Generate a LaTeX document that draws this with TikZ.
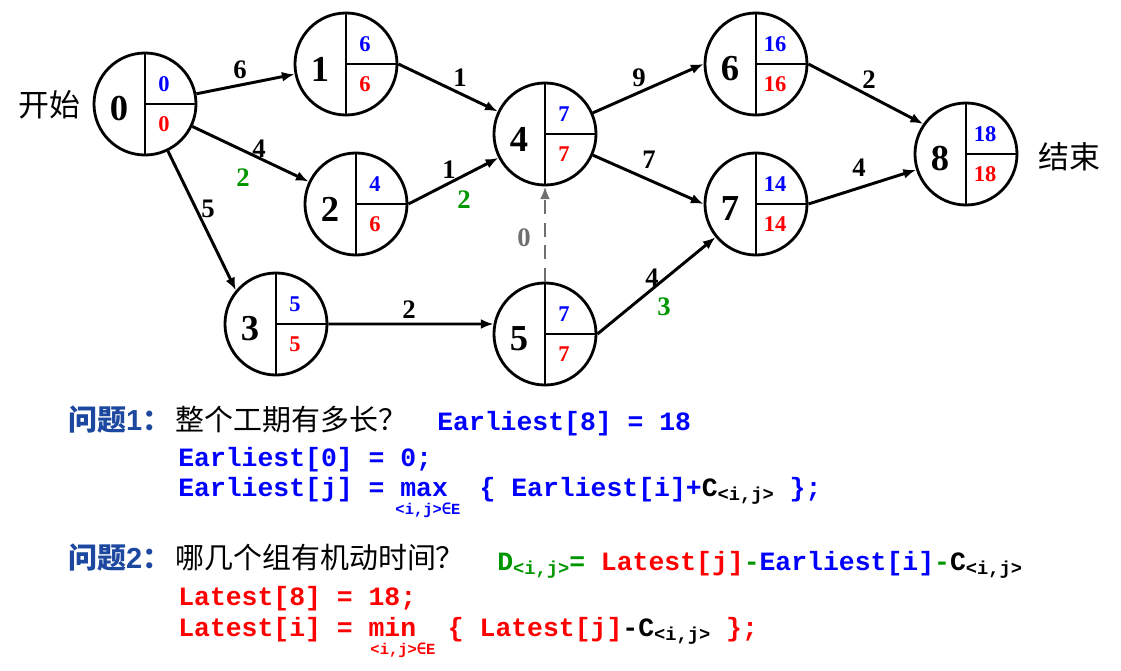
\documentclass[tikz,border=0pt]{standalone}
\usepackage{fontspec}
\setmainfont{Liberation Serif}
\newfontfamily\cjkfont{Noto Sans CJK SC}
\newfontfamily\codefont{Liberation Mono}
\newfontfamily\headfont{Liberation Sans}
\newfontfamily\symbfont{DejaVu Sans Mono}
\usetikzlibrary{arrows.meta, positioning, calc}
\definecolor{eblue}{RGB}{0,0,255}
\definecolor{lred}{RGB}{255,0,0}
\definecolor{dgreen}{RGB}{0,150,0}
\definecolor{dgray}{RGB}{110,110,110}
\definecolor{qblue}{RGB}{28,72,160}
\tikzset{
	event/.style={circle, draw, line width=2pt, minimum size=2.55cm, inner sep=0pt},
	divider/.style={line width=2pt},
	bignum/.style={font=\fontsize{26}{26}\selectfont\bfseries, inner sep=0pt},
	early/.style={font=\fontsize{16}{16}\selectfont\bfseries, text=eblue, inner sep=0pt},
	late/.style={early, text=lred},
	weight/.style={font=\fontsize{19}{19}\selectfont\bfseries, inner sep=0pt},
	slack/.style={weight, text=dgreen},
	arc/.style={draw, line width=2.1pt, -{Latex[length=9pt,width=7pt]}},
	dummy/.style={arc, dgray, dash pattern=on 10pt off 6pt},
	endlabel/.style={font=\cjkfont\fontsize{22}{22}\selectfont, inner sep=0pt},
	question/.style={anchor=base west, inner sep=0pt, font=\cjkfont\fontsize{20.6}{20.6}\selectfont},
	code/.style={anchor=base west, inner sep=0pt, font=\codefont\bfseries\fontsize{18.8}{18.8}\selectfont},
	under/.style={inner sep=0pt, font=\codefont\bfseries\fontsize{11}{11}\selectfont}
}
\newcommand{\pairsub}{\raisebox{-0.35ex}{\fontsize{13.3}{13.3}\selectfont<i,j>}}
\newcommand{\inE}{{\symbfont\bfseries ∈}E}

\begin{document}
\begin{tikzpicture}[x=0.025cm, y=-0.025cm]
	\useasboundingbox (0,0) rectangle (1121,671);
	% Events: number / x / y / earliest / latest
	\foreach \n/\x/\y/\e/\l in {0/145/104/0/0, 1/346/64/6/6, 2/356/204/4/6,
		3/276/324/5/5, 4/545/134/7/7, 5/545/334/7/7,
		6/756/64/16/16, 7/756/204/14/14, 8/966/154/18/18}
	{
		\node[event] (n\n) at (\x,\y) {};
		\draw[divider] (n\n.north) -- (n\n.south) (n\n.center) -- (n\n.east);
		\node[bignum] (b\n) at ([shift={(-26,5)}]n\n.center) {\n};
		\node[early] (e\n) at ([shift={(19,-20)}]n\n.center) {\e};
		\node[late] (l\n) at ([shift={(19,20)}]n\n.center) {\l};
	}
	\node[endlabel] (start) at (49,105) {开始};
	\node[endlabel] (finish) at (1069,157) {结束};
	
	% Activities
	\draw[arc] (n0) -- (n1);
	\draw[arc] (n0) -- (n2);
	\draw[arc] (n0) -- (n3.140);
	\draw[arc] (n1.east) -- (n4);
	\draw[arc] (n2.east) -- (n4);
	\draw[arc] (n3.east) -- (n5.169);
	\draw[dummy] (n5.north) -- (n4.south);
	\draw[arc] (n5.east) -- (n7);
	\draw[arc] (n4) -- (n6.west);
	\draw[arc] (n4) -- (n7.west);
	\draw[arc] (n6.east) -- (n8.145);
	\draw[arc] (n7.east) -- (n8);
	
	% Durations and slack
	\node[weight] (w01) at (240,70) {6};
	\node[weight] (w02) at (259,149) {4};
	\node[slack] (s02) at (243,178) {2};
	\node[weight] (w03) at (208,209) {5};
	\node[weight] (w14) at (460,78) {1};
	\node[weight] (w24) at (449,170) {1};
	\node[slack] (s24) at (464,200) {2};
	\node[weight, text=dgray] (w54) at (524,238) {0};
	\node[weight] (w35) at (409,310) {2};
	\node[weight] (w57) at (652,278) {4};
	\node[slack] (s57) at (664,307) {3};
	\node[weight] (w46) at (639,78) {9};
	\node[weight] (w47) at (649,160) {7};
	\node[weight] (w68) at (869,80) {2};
	\node[weight] (w78) at (859,168) {4};
	
	% Questions
	\node[question, text=qblue] (q1) at (68,430) {\bfseries 问题{\headfont\bfseries 1}：};
	\node[question] (q1text) at (175,430) {整个工期有多长？};
	\node[code, text=eblue] (c1) at (437,430) {Earliest[8]~=~18};
	\node[code, text=eblue] (c2) at (178,466) {Earliest[0]~=~0;};
	\node[code] (c3) at (178,496) {\textcolor{eblue}{Earliest[j]~=~max~~\{~Earliest[i]+}C\pairsub\textcolor{eblue}{~\};}};
	\node[under, text=eblue] (u1) at (428,510) {<i,j>\inE};
	
	\node[question, text=qblue] (q2) at (68,568) {\bfseries 问题{\headfont\bfseries 2}：};
	\node[question] (q2text) at (175,568) {哪几个组有机动时间？};
	\node[code] (c4) at (497,570) {\textcolor{dgreen}{D\pairsub=}~\textcolor{lred}{Latest[j]}\textcolor{dgreen}{-}\textcolor{eblue}{Earliest[i]}\textcolor{dgreen}{-}C\pairsub};
	\node[code, text=lred] (c5) at (178,605) {Latest[8]~=~18;};
	\node[code] (c6) at (178,636) {\textcolor{lred}{Latest[i]~=~min~~\{~Latest[j]}-C\pairsub\textcolor{lred}{~\};}};
	\node[under, text=lred] (u2) at (403,650) {<i,j>\inE};
\end{tikzpicture}
\end{document}
